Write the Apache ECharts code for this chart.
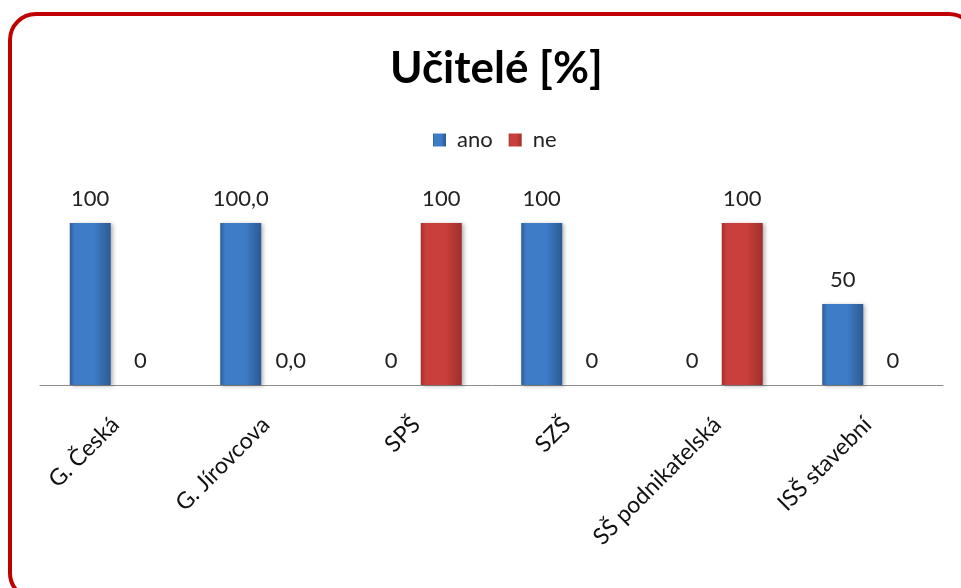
<!DOCTYPE html>
<html><head><meta charset="utf-8">
<script src="https://cdn.jsdelivr.net/npm/echarts@6/dist/echarts.min.js"></script>
<style>html,body{margin:0;padding:0;background:#fff}#c{width:961px;height:588px}</style>
</head><body><div id="c"></div>
<script>
const categories = ['G. Česká', 'G. Jírovcova', 'SPŠ', 'SZŠ', 'SŠ podnikatelská', 'ISŠ stavební'];
const anoValues = [100, 100, 0, 100, 0, 50];
const neValues = [0, 0, 100, 0, 100, 0];
const anoLabels = ['100', '100,0', '0', '100', '0', '50'];
const neLabels = ['0', '0,0', '100', '0', '100', '0'];

const FONT = 'Lato, "Open Sans", sans-serif';
function grad(edge1, mid, edge2) {
  return new echarts.graphic.LinearGradient(0, 0, 1, 0, [
    {offset: 0, color: edge1}, {offset: 0.12, color: mid}, {offset: 0.6, color: mid}, {offset: 1, color: edge2}
  ]);
}
const chart = echarts.init(document.getElementById('c'));
chart.setOption({
  animation: false,
  backgroundColor: '#fff',
  graphic: [{
    type: 'rect', shape: {x: 10, y: 14, width: 965, height: 585, r: 26},
    style: {fill: 'none', stroke: '#c00000', lineWidth: 4}, z: -1
  }],
  title: {
    text: 'Učitelé [%]', left: 385, top: 42,
    textStyle: {fontFamily: FONT, fontSize: 44, fontWeight: 'bold', color: '#000'}
  },
  legend: {
    top: 124, left: 428, itemWidth: 13, itemHeight: 13, itemGap: 16, icon: 'rect',
    textStyle: {fontFamily: FONT, fontSize: 22, color: '#222', padding: [0, 0, 0, 6]},
    data: ['ano', 'ne']
  },
  grid: {left: 40, right: 18, top: 223, bottom: 203},
  xAxis: {
    type: 'category', data: categories,
    axisLine: {lineStyle: {color: '#8c8c8c', width: 1}},
    axisTick: {show: false},
    axisLabel: {rotate: 45, margin: 36, interval: 0, fontFamily: FONT, fontSize: 23, color: '#111'}
  },
  yAxis: {type: 'value', min: 0, max: 100, show: false, splitLine: {show: false}},
  series: [
    {
      name: 'ano', type: 'bar', data: anoValues, barWidth: 41, barGap: '22%',
      itemStyle: {color: grad('#2d5c97', '#3f7cc7', '#2c5a93'), shadowBlur: 4, shadowColor: 'rgba(0,0,0,0.3)', shadowOffsetX: 2, shadowOffsetY: 1},
      label: {show: true, position: 'top', distance: 13, fontFamily: FONT, fontSize: 22, color: '#222',
        formatter: p => anoLabels[p.dataIndex]}
    },
    {
      name: 'ne', type: 'bar', data: neValues, barWidth: 41,
      itemStyle: {color: grad('#a3302d', '#c93f3b', '#9e2f2c'), shadowBlur: 4, shadowColor: 'rgba(0,0,0,0.3)', shadowOffsetX: 2, shadowOffsetY: 1},
      label: {show: true, position: 'top', distance: 13, fontFamily: FONT, fontSize: 22, color: '#222',
        formatter: p => neLabels[p.dataIndex]}
    }
  ]
});
</script></body></html>
